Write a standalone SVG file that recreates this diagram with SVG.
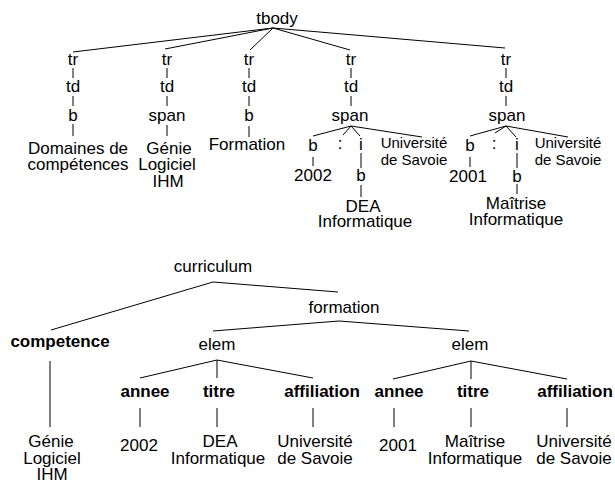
<svg xmlns="http://www.w3.org/2000/svg" width="615" height="482" viewBox="0 0 615 482">
<style>
text{font-family:"Liberation Sans",Arial,sans-serif;font-size:17px;fill:#000;text-anchor:middle}
.s{font-size:15px}
.bd{font-weight:bold}
#edges line{stroke:#000;stroke-width:1}
</style>
<rect width="615" height="482" fill="#fff"/>
<g id="edges">
<line x1="273" y1="28" x2="73" y2="52"/>
<line x1="273" y1="28" x2="165" y2="49"/>
<line x1="273" y1="28" x2="250" y2="50"/>
<line x1="273" y1="28" x2="350" y2="50"/>
<line x1="273" y1="28" x2="505" y2="48"/>
<line x1="73" y1="68" x2="73" y2="78"/><line x1="73" y1="96" x2="73" y2="106"/><line x1="73" y1="124" x2="73" y2="136"/>
<line x1="167" y1="68" x2="167" y2="78"/><line x1="167" y1="96" x2="167" y2="106"/><line x1="167" y1="125" x2="167" y2="136"/>
<line x1="249" y1="68" x2="249" y2="78"/><line x1="249" y1="96" x2="249" y2="106"/><line x1="249" y1="126" x2="249" y2="137"/>
<line x1="351" y1="68" x2="351" y2="78"/><line x1="351" y1="96" x2="351" y2="106"/>
<line x1="351" y1="126" x2="313" y2="136"/><line x1="351" y1="126" x2="343" y2="135"/><line x1="351" y1="126" x2="360" y2="136"/><line x1="351" y1="126" x2="422" y2="137"/>
<line x1="313" y1="157" x2="313" y2="166"/><line x1="361" y1="153" x2="361" y2="168"/><line x1="361" y1="185" x2="361" y2="197"/>
<line x1="506" y1="68" x2="506" y2="78"/><line x1="506" y1="96" x2="506" y2="106"/>
<line x1="506" y1="126" x2="470" y2="136"/><line x1="506" y1="126" x2="495" y2="133"/><line x1="506" y1="126" x2="516" y2="137"/><line x1="506" y1="126" x2="568" y2="137"/>
<line x1="470" y1="157" x2="470" y2="167"/><line x1="517" y1="153" x2="517" y2="168"/><line x1="517" y1="184" x2="517" y2="194"/>
<line x1="213" y1="282" x2="51" y2="330"/><line x1="213" y1="282" x2="338" y2="292"/>
<line x1="50" y1="361" x2="50" y2="427"/>
<line x1="339" y1="321" x2="213" y2="331"/><line x1="339" y1="321" x2="469" y2="331"/>
<line x1="217" y1="360" x2="140" y2="378"/><line x1="217" y1="360" x2="217" y2="378"/><line x1="217" y1="360" x2="313" y2="378"/>
<line x1="471" y1="361" x2="393" y2="379"/><line x1="471" y1="361" x2="471" y2="379"/><line x1="471" y1="361" x2="567" y2="379"/>
<line x1="140" y1="408" x2="140" y2="427"/><line x1="217" y1="408" x2="217" y2="427"/><line x1="313" y1="408" x2="313" y2="427"/>
<line x1="394" y1="408" x2="394" y2="427"/><line x1="471" y1="408" x2="471" y2="427"/><line x1="567" y1="408" x2="567" y2="427"/>
</g>
<g id="n-tbody"><text x="277" y="24">tbody</text></g>
<g id="n-col1"><text x="73" y="65">tr</text><text x="73" y="92">td</text><text x="73" y="121">b</text><text x="78" y="154">Domaines de</text><text x="78" y="170">compétences</text></g>
<g id="n-col2"><text x="167" y="65">tr</text><text x="167" y="92">td</text><text x="167" y="121">span</text><text x="169" y="154">Génie</text><text x="167" y="170">Logiciel</text><text x="168" y="187">IHM</text></g>
<g id="n-col3"><text x="249" y="65">tr</text><text x="249" y="92">td</text><text x="249" y="121">b</text><text x="247" y="150">Formation</text></g>
<g id="n-col4"><text x="351" y="65">tr</text><text x="351" y="92">td</text><text x="350" y="121">span</text>
<text x="313" y="151">b</text><text x="340" y="149">:</text><text x="361" y="150">i</text>
<text class="s" x="414" y="148">Université</text><text class="s" x="414" y="165">de Savoie</text>
<text x="313" y="181">2002</text><text x="361" y="181">b</text><text x="363" y="212">DEA</text><text x="365" y="227">Informatique</text></g>
<g id="n-col5"><text x="506" y="65">tr</text><text x="506" y="92">td</text><text x="507" y="121">span</text>
<text x="470" y="151">b</text><text x="494" y="149">:</text><text x="517" y="150">i</text>
<text class="s" x="568" y="148">Université</text><text class="s" x="568" y="165">de Savoie</text>
<text x="468" y="182">2001</text><text x="517" y="182">b</text><text x="516" y="209">Maîtrise</text><text x="516" y="225">Informatique</text></g>
<g id="n-curriculum"><text x="213" y="272">curriculum</text></g>
<g id="n-competence"><text class="bd" x="60" y="347">competence</text><text x="51" y="447">Génie</text><text x="52" y="464">Logiciel</text><text x="52" y="480">IHM</text></g>
<g id="n-formation"><text x="344" y="313">formation</text></g>
<g id="n-elem1"><text x="217" y="350">elem</text>
<text class="bd" x="145" y="397">annee</text><text class="bd" x="219" y="397">titre</text><text class="bd" x="322" y="397">affiliation</text>
<text x="139" y="451">2002</text><text x="220" y="447">DEA</text><text x="218" y="464">Informatique</text><text x="315" y="447">Université</text><text x="315" y="464">de Savoie</text></g>
<g id="n-elem2"><text x="470" y="350">elem</text>
<text class="bd" x="399" y="397">annee</text><text class="bd" x="473" y="397">titre</text><text class="bd" x="575" y="397">affiliation</text>
<text x="398" y="451">2001</text><text x="475" y="447">Maîtrise</text><text x="475" y="464">Informatique</text><text x="574" y="447">Université</text><text x="574" y="464">de Savoie</text></g>
</svg>
